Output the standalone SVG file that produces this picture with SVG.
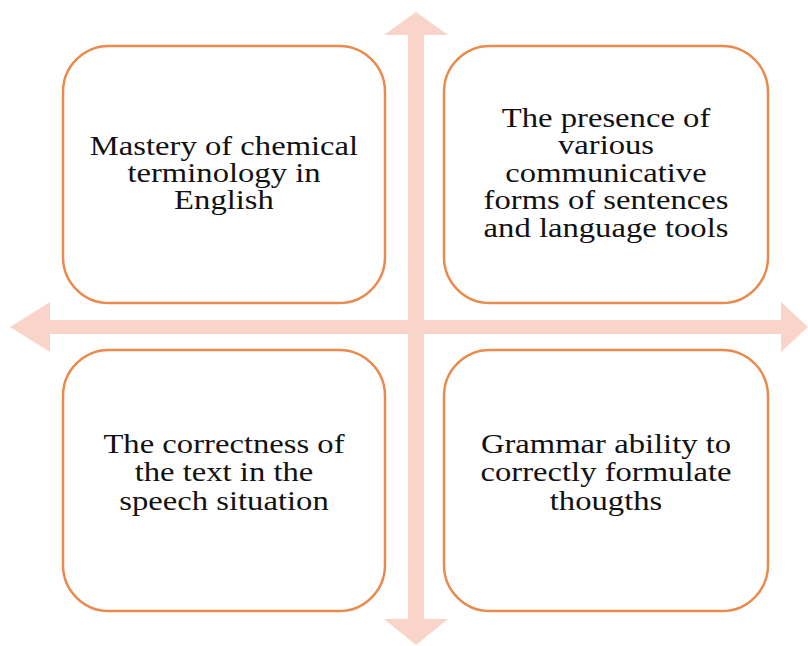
<svg xmlns="http://www.w3.org/2000/svg" width="808" height="646" viewBox="0 0 808 646">
  <style>
    .arrow { fill: #F8D4C9; stroke: none; }
    .box { fill: #FFFFFF; stroke: #E98A4E; stroke-width: 2.5; }
    .lbl { font-family: "Liberation Serif", "Times New Roman", serif; font-size: 27px; fill: #111111; text-anchor: middle; }
  </style>
  <rect width="808" height="646" fill="#FFFFFF"/>
  <g id="connectors">
    <polygon class="arrow" points="416,12 448,35 424,35 424,619 448,619 416,645 384,619 408,619 408,35 384,35"/>
    <polygon class="arrow" points="10,327 50,302 50,320 781,320 781,302 808,327 781,352 781,334 50,334 50,352"/>
  </g>
  <g id="node-tl">
    <rect class="box" x="63" y="46" width="322" height="257" rx="46" ry="46"/>
    <g transform="translate(224,0) scale(1.21,1)">
      <text class="lbl" x="0" y="155">Mastery of chemical</text>
      <text class="lbl" x="0" y="182">terminology in</text>
      <text class="lbl" x="0" y="209.5">English</text>
    </g>
  </g>
  <g id="node-tr">
    <rect class="box" x="444" y="46" width="324" height="257" rx="46" ry="46"/>
    <g transform="translate(606,0) scale(1.21,1)">
      <text class="lbl" x="0" y="127">The presence of</text>
      <text class="lbl" x="0" y="154.5">various</text>
      <text class="lbl" x="0" y="182">communicative</text>
      <text class="lbl" x="0" y="209.5">forms of sentences</text>
      <text class="lbl" x="0" y="237">and language tools</text>
    </g>
  </g>
  <g id="node-bl">
    <rect class="box" x="63" y="350" width="322" height="261" rx="46" ry="46"/>
    <g transform="translate(224,0) scale(1.21,1)">
      <text class="lbl" x="0" y="453">The correctness of</text>
      <text class="lbl" x="0" y="481.5">the text in the</text>
      <text class="lbl" x="0" y="510">speech situation</text>
    </g>
  </g>
  <g id="node-br">
    <rect class="box" x="444" y="350" width="324" height="261" rx="46" ry="46"/>
    <g transform="translate(606,0) scale(1.21,1)">
      <text class="lbl" x="0" y="453">Grammar ability to</text>
      <text class="lbl" x="0" y="481.5">correctly formulate</text>
      <text class="lbl" x="0" y="510">thougths</text>
    </g>
  </g>
</svg>
